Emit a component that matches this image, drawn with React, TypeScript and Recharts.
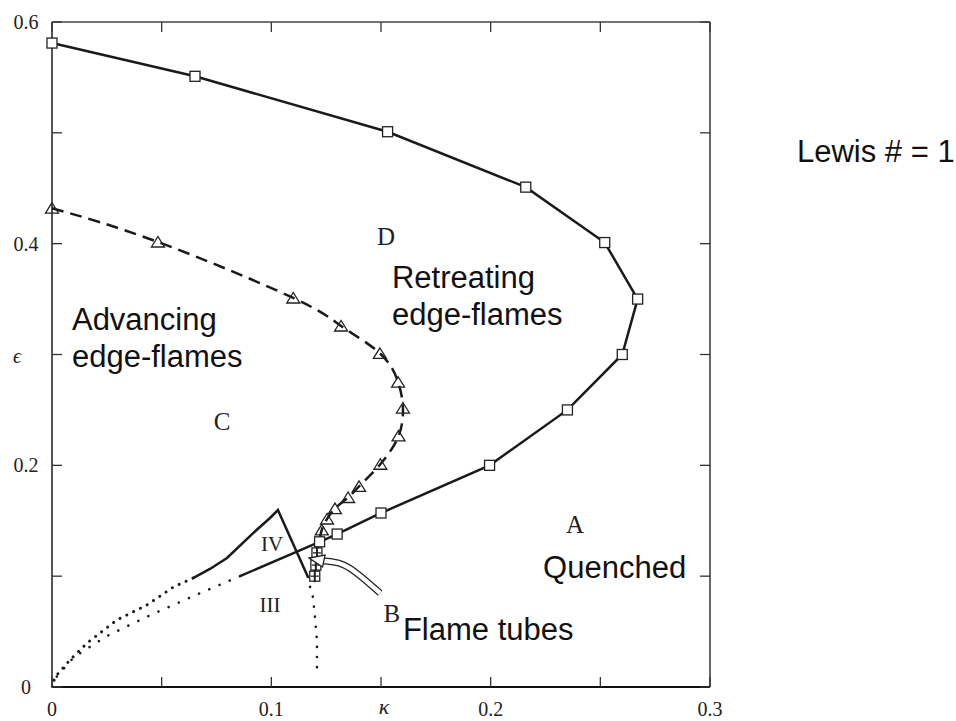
import React from "react";
import { ComposedChart, Line, Scatter, XAxis, YAxis, ReferenceLine } from "recharts";

type Pt = { k: number; e: number };

const kTicks = [0, 0.05, 0.1, 0.15, 0.2, 0.25, 0.3];
const kTickLabels = ["0", "", "0.1", "κ", "0.2", "", "0.3"];
const eTicks = [0, 0.1, 0.2, 0.3, 0.4, 0.5, 0.6];
const eTickLabels = ["0", "", "0.2", "ϵ", "0.4", "", "0.6"];

// retreating edge-flame boundary (squares, solid)
const retreatSquares: Pt[] = [
  { k: 0, e: 0.581 },
  { k: 0.0652, e: 0.551 },
  { k: 0.153, e: 0.501 },
  { k: 0.216, e: 0.451 },
  { k: 0.252, e: 0.401 },
  { k: 0.267, e: 0.35 },
  { k: 0.26, e: 0.3 },
  { k: 0.235, e: 0.25 },
  { k: 0.1995, e: 0.2 },
  { k: 0.15, e: 0.157 },
  { k: 0.13, e: 0.138 },
  { k: 0.122, e: 0.131 },
];
const retreatTail: Pt[] = [{ k: 0.0857, e: 0.1 }];
const retreatDotted: Pt[] = [
  { k: 0.0857, e: 0.1 },
  { k: 0.065, e: 0.0825 },
  { k: 0.045, e: 0.065 },
  { k: 0.025, e: 0.046 },
  { k: 0.01, e: 0.027 },
  { k: 0.002, e: 0.009 },
  { k: 0, e: 0 },
];

// advancing edge-flame boundary (triangles, dashed)
const advanceTriangles: Pt[] = [
  { k: 0, e: 0.432 },
  { k: 0.0483, e: 0.4015 },
  { k: 0.11, e: 0.351 },
  { k: 0.1318, e: 0.3257 },
  { k: 0.1495, e: 0.301 },
  { k: 0.1578, e: 0.275 },
  { k: 0.16, e: 0.2517 },
  { k: 0.158, e: 0.2265 },
  { k: 0.1497, e: 0.201 },
  { k: 0.14, e: 0.181 },
  { k: 0.135, e: 0.171 },
  { k: 0.129, e: 0.161 },
  { k: 0.1254, e: 0.1516 },
  { k: 0.123, e: 0.1417 },
];
const crossSquares: Pt[] = [
  { k: 0.1208, e: 0.121 },
  { k: 0.1203, e: 0.11 },
  { k: 0.1198, e: 0.1 },
];

// flame-tube region (IV / III)
const tubeSolid: Pt[] = [
  { k: 0.0643, e: 0.0983 },
  { k: 0.072, e: 0.1065 },
  { k: 0.0798, e: 0.1164 },
  { k: 0.0917, e: 0.1389 },
  { k: 0.0994, e: 0.1525 },
  { k: 0.103, e: 0.1597 },
  { k: 0.1167, e: 0.0993 },
];
const tubeDottedLeft: Pt[] = [
  { k: 0.0643, e: 0.0983 },
  { k: 0.0552, e: 0.09 },
  { k: 0.0433, e: 0.074 },
  { k: 0.0296, e: 0.0605 },
  { k: 0.016, e: 0.0397 },
  { k: 0.0082, e: 0.0244 },
  { k: 0.0014, e: 0.009 },
  { k: 0, e: 0 },
];
const tubeDottedDown: Pt[] = [
  { k: 0.1167, e: 0.0993 },
  { k: 0.1177, e: 0.09 },
  { k: 0.119, e: 0.081 },
  { k: 0.1199, e: 0.063 },
  { k: 0.1208, e: 0.042 },
  { k: 0.1208, e: 0.0135 },
];

// arrow from B
const arrowShaft: Pt[] = [
  { k: 0.1496, e: 0.0848 },
  { k: 0.1382, e: 0.1038 },
  { k: 0.1304, e: 0.1119 },
  { k: 0.1236, e: 0.1137 },
];
const arrowTip: Pt[] = [{ k: 0.1172, e: 0.1164 }];

const sansNotes = [
  { k: 0.0091, e: 0.3222, text: ["Advancing", "edge-flames"] },
  { k: 0.155, e: 0.36, text: ["Retreating", "edge-flames"] },
  { k: 0.2239, e: 0.0984, text: ["Quenched"] },
  { k: 0.16, e: 0.0424, text: ["Flame tubes"] },
];
const letterNotes = [
  { k: 0.2385, e: 0.139, text: "A" },
  { k: 0.155, e: 0.0587, text: "B" },
  { k: 0.0775, e: 0.232, text: "C" },
  { k: 0.1523, e: 0.399, text: "D" },
];
const numeralNotes = [
  { k: 0.1003, e: 0.1227, text: "IV" },
  { k: 0.0994, e: 0.0677, text: "III" },
];

const W = 956;
const H = 721;
const PLOT = { left: 52, top: 22, right: 710, bottom: 687 };

const SERIF = "'Liberation Serif', 'Times New Roman', serif";
const SANS = "'Liberation Sans', Arial, Helvetica, sans-serif";
const INK = "#1a1a1a";
const TICK = 10;

const labelFor = (ticks: number[], labels: string[], v: number) => {
  const i = ticks.findIndex((t) => Math.abs(t - v) < 1e-9);
  return i >= 0 ? labels[i] : "";
};

// bottom tick also draws its twin on the top edge
const BottomTick = (p: any) => {
  const lab = labelFor(kTicks, kTickLabels, p.payload.value);
  const sym = lab === "κ";
  return (
    <g>
      <line x1={p.x} y1={PLOT.bottom} x2={p.x} y2={PLOT.bottom - TICK} stroke="#333" strokeWidth={1.3} />
      <line x1={p.x} y1={PLOT.top} x2={p.x} y2={PLOT.top + TICK} stroke="#333" strokeWidth={1.3} />
      {lab && (
        <text
          x={sym ? p.x + 3 : p.x}
          y={sym ? PLOT.bottom + 27 : PLOT.bottom + 29}
          textAnchor="middle"
          fontFamily={SERIF}
          fontSize={sym ? 22 : 20}
          fontStyle={sym ? "italic" : "normal"}
          fill="#222"
        >
          {lab}
        </text>
      )}
    </g>
  );
};

// left tick also draws its twin on the right edge
const LeftTick = (p: any) => {
  const lab = labelFor(eTicks, eTickLabels, p.payload.value);
  const sym = lab === "ϵ";
  return (
    <g>
      <line x1={PLOT.left} y1={p.y} x2={PLOT.left + TICK} y2={p.y} stroke="#333" strokeWidth={1.3} />
      <line x1={PLOT.right} y1={p.y} x2={PLOT.right - TICK} y2={p.y} stroke="#333" strokeWidth={1.3} />
      {lab && (
        <text
          x={sym ? PLOT.left - 35 : PLOT.left - 26}
          y={sym ? p.y + 8 : p.y + 7}
          textAnchor="middle"
          fontFamily={SERIF}
          fontSize={20}
          fontStyle={sym ? "italic" : "normal"}
          fill="#222"
        >
          {lab}
        </text>
      )}
    </g>
  );
};

const SquareMark = (p: any) => (
  <rect x={p.cx - 5} y={p.cy - 5} width={10} height={10} fill="#fff" stroke="#222" strokeWidth={1.3} />
);

const CrossSquareMark = (p: any) => (
  <g>
    <rect x={p.cx - 5} y={p.cy - 5} width={10} height={10} fill="#fff" stroke="#222" strokeWidth={1.3} />
    <line x1={p.cx} y1={p.cy - 6} x2={p.cx} y2={p.cy + 6} stroke="#222" strokeWidth={2} />
    <line x1={p.cx - 4} y1={p.cy} x2={p.cx + 4} y2={p.cy} stroke="#222" strokeWidth={1.3} />
  </g>
);

const TriangleMark = (p: any) => (
  <polygon
    points={`${p.cx},${p.cy - 5.5} ${p.cx - 6.5},${p.cy + 5} ${p.cx + 6.5},${p.cy + 5}`}
    fill="none"
    stroke="#222"
    strokeWidth={1.3}
  />
);

const ArrowHead = (p: any) => (
  <polygon
    points={`${p.cx},${p.cy} ${p.cx + 16},${p.cy - 3} ${p.cx + 13.5},${p.cy + 9}`}
    fill="#fff"
    stroke="#222"
    strokeWidth={1.3}
  />
);

const SansNote = (p: any) => (
  <text x={p.cx} y={p.cy} fontFamily={SANS} fontSize={31} fill="#111">
    {p.payload.text.map((t: string, i: number) => (
      <tspan key={i} x={p.cx} dy={i === 0 ? 0 : 37}>
        {t}
      </tspan>
    ))}
  </text>
);

const LetterNote = (p: any) => (
  <text x={p.cx} y={p.cy} textAnchor="middle" fontFamily={SERIF} fontSize={25} fill="#222">
    {p.payload.text}
  </text>
);

const NumeralNote = (p: any) => (
  <text x={p.cx} y={p.cy} textAnchor="middle" fontFamily={SERIF} fontSize={21} fill="#222">
    {p.payload.text}
  </text>
);

const noDots = { dot: false, activeDot: false, isAnimationActive: false } as const;

export default function App() {
  return (
    <div style={{ position: "absolute", left: 0, top: 0, width: W, height: H, background: "#fff" }}>
      <ComposedChart
        width={W}
        height={H}
        margin={{ top: PLOT.top, right: W - PLOT.right, bottom: 0, left: 0 }}
      >
        <XAxis
          dataKey="k"
          type="number"
          domain={[0, 0.3]}
          ticks={kTicks}
          interval={0}
          height={H - PLOT.bottom}
          tickSize={0}
          tickMargin={0}
          tickLine={false}
          axisLine={false}
          tick={<BottomTick />}
        />
        <YAxis
          dataKey="e"
          type="number"
          domain={[0, 0.6]}
          ticks={eTicks}
          interval={0}
          width={PLOT.left}
          tickSize={0}
          tickMargin={0}
          tickLine={false}
          axisLine={false}
          tick={<LeftTick />}
        />

        {/* frame */}
        <ReferenceLine x={0} stroke="#555" strokeWidth={2} />
        <ReferenceLine x={0.3} stroke="#333" strokeWidth={1.5} />
        <ReferenceLine y={0.6} stroke="#444" strokeWidth={1.5} />
        <ReferenceLine y={0} stroke="#111" strokeWidth={2.2} />

        <Line data={[...retreatSquares, ...retreatTail]} dataKey="e" type="linear" stroke={INK} strokeWidth={2.5} {...noDots} />
        <Line data={retreatDotted} dataKey="e" type="linear" stroke={INK} strokeWidth={2.6} strokeDasharray="0.1 11" strokeLinecap="round" {...noDots} />
        <Line data={[...advanceTriangles, ...crossSquares]} dataKey="e" type="natural" stroke={INK} strokeWidth={2.5} strokeDasharray="12 7" {...noDots} />
        <Line data={tubeSolid} dataKey="e" type="linear" stroke={INK} strokeWidth={2.5} {...noDots} />
        <Line data={tubeDottedLeft} dataKey="e" type="linear" stroke={INK} strokeWidth={3} strokeDasharray="0.1 7.5" strokeLinecap="round" {...noDots} />
        <Line data={tubeDottedDown} dataKey="e" type="linear" stroke={INK} strokeWidth={2.6} strokeDasharray="0.1 10" strokeLinecap="round" {...noDots} />

        <Scatter data={retreatSquares} shape={SquareMark} isAnimationActive={false} />
        <Scatter data={crossSquares} shape={CrossSquareMark} isAnimationActive={false} />
        <Scatter data={advanceTriangles} shape={TriangleMark} isAnimationActive={false} />

        <Line data={arrowShaft} dataKey="e" type="natural" stroke="#222" strokeWidth={7} {...noDots} />
        <Line data={arrowShaft} dataKey="e" type="natural" stroke="#fff" strokeWidth={4.4} {...noDots} />
        <Scatter data={arrowTip} shape={ArrowHead} isAnimationActive={false} />

        <Scatter data={sansNotes} shape={SansNote} isAnimationActive={false} />
        <Scatter data={letterNotes} shape={LetterNote} isAnimationActive={false} />
        <Scatter data={numeralNotes} shape={NumeralNote} isAnimationActive={false} />
      </ComposedChart>
      <div
        style={{
          position: "absolute",
          left: 797,
          top: 136,
          fontFamily: SANS,
          fontSize: 31,
          lineHeight: 1,
          color: "#111",
          whiteSpace: "nowrap",
        }}
      >
        Lewis # = 1
      </div>
    </div>
  );
}
